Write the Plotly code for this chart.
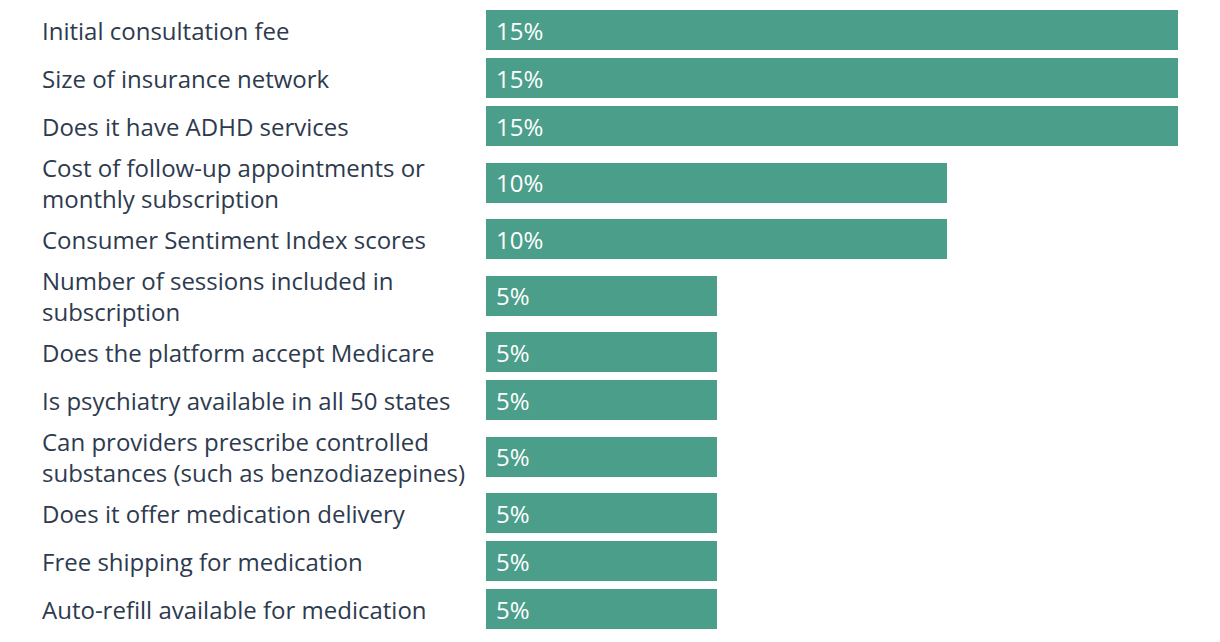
import plotly.graph_objects as go

labels = [
    "Initial consultation fee",
    "Size of insurance network",
    "Does it have ADHD services",
    "Cost of follow-up appointments or<br>monthly subscription",
    "Consumer Sentiment Index scores",
    "Number of sessions included in<br>subscription",
    "Does the platform accept Medicare",
    "Is psychiatry available in all 50 states",
    "Can providers prescribe controlled<br>substances (such as benzodiazepines)",
    "Does it offer medication delivery",
    "Free shipping for medication",
    "Auto-refill available for medication",
]
weights = [15, 15, 15, 10, 10, 5, 5, 5, 5, 5, 5, 5]

OFF = 8  # page body margin
W, H = 1220 - OFF, 642 - OFF
BAR_COLOR = "#4B9E8A"
TEXT_COLOR = "#2E3A4E"
FONT = "Open Sans"
FS = 24

# row layout: centre spacing grows with the number of label lines
BASE = 48
EXTRA = 8.5
nlines = [l.count("<br>") + 1 for l in labels]
centers = [30.0 - OFF]
for i in range(1, len(labels)):
    centers.append(centers[-1] + BASE + EXTRA * ((nlines[i - 1] - 1) + (nlines[i] - 1)))

fig = go.Figure(go.Bar(
    x=weights, y=centers, orientation="h", width=40,
    marker=dict(color=BAR_COLOR, line=dict(width=0)),
    hoverinfo="skip",
))

L, R = 486 - OFF, 1220 - 1178
plot_w = W - L - R
LABEL_X = 40 - OFF
for lab, c, w in zip(labels, centers, weights):
    fig.add_annotation(
        x=-(L - LABEL_X) / plot_w, xref="paper", y=c, yref="y",
        text=lab, showarrow=False, xanchor="left", yanchor="middle", align="left",
        font=dict(family=FONT, size=FS, color=TEXT_COLOR),
    )
    fig.add_annotation(
        x=0, xref="x", y=c, yref="y", xshift=8,
        text=f"{w}%", showarrow=False, xanchor="left", yanchor="middle",
        font=dict(family=FONT, size=FS, color="white"),
    )

fig.update_layout(
    width=W, height=H,
    margin=dict(l=L, r=R, t=0, b=0),
    paper_bgcolor="white", plot_bgcolor="white",
    showlegend=False,
    xaxis=dict(range=[0, 15], visible=False, fixedrange=True),
    yaxis=dict(range=[H, 0], visible=False, fixedrange=True),
    bargap=0,
)
fig.write_html("out.html")
